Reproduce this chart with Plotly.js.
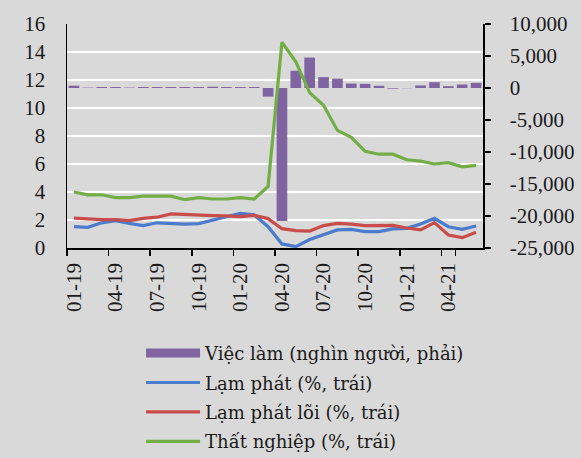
<!DOCTYPE html>
<html>
<head>
<meta charset="utf-8">
<script src="https://cdn.plot.ly/plotly-3.0.1.min.js"></script>
<style>html,body{margin:0;padding:0;background:#d9d9d9;}#chart{width:581px;height:458px;}</style>
</head>
<body>
<div id="chart"></div>
<script>
const months = ['01-19','02-19','03-19','04-19','05-19','06-19','07-19','08-19','09-19','10-19','11-19','12-19',
  '01-20','02-20','03-20','04-20','05-20','06-20','07-20','08-20','09-20','10-20','11-20','12-20',
  '01-21','02-21','03-21','04-21','05-21','06-21'];
const jobs = [360, 60, 150, 150, 60, 150, 150, 150, 150, 150, 200, 150, 150, 150, -1350, -20780, 2700, 4760, 1700, 1460, 700, 650, 350, -100, -30, 400, 900, 280, 550, 800];
const inflation = [1.52, 1.48, 1.8, 1.95, 1.76, 1.6, 1.8, 1.76, 1.7, 1.74, 2.0, 2.24, 2.48, 2.38, 1.52, 0.29, 0.1, 0.6, 0.93, 1.29, 1.33, 1.17, 1.17, 1.36, 1.4, 1.71, 2.12, 1.52, 1.33, 1.57];
const coreInflation = [2.14, 2.07, 2.02, 2.02, 1.95, 2.12, 2.2, 2.43, 2.38, 2.33, 2.31, 2.29, 2.24, 2.33, 2.1, 1.38, 1.24, 1.21, 1.6, 1.76, 1.71, 1.6, 1.62, 1.62, 1.43, 1.29, 1.81, 0.93, 0.74, 1.12];
const unemployment = [4.0, 3.8, 3.8, 3.6, 3.6, 3.7, 3.7, 3.7, 3.45, 3.6, 3.5, 3.5, 3.6, 3.5, 4.4, 14.7, 13.3, 11.1, 10.2, 8.4, 7.9, 6.9, 6.7, 6.7, 6.3, 6.2, 6.0, 6.1, 5.8, 5.9];
const names = ['Việc làm (nghìn người, phải)', 'Lạm phát (%, trái)', 'Lạm phát lõi (%, trái)', 'Thất nghiệp (%, trái)'];
const xTickLabels = ['01-19','04-19','07-19','10-19','01-20','04-20','07-20','10-20','01-21','04-21'];
const rightTickVals = [10000, 5000, 0, -5000, -10000, -15000, -20000, -25000];
const rightTickText = ['10,000', '5,000', '0', '-5,000', '-10,000', '-15,000', '-20,000', '-25,000'];

const purple = '#8064a2', blue = '#4a7bcc', red = '#c84d4a', green = '#72ae45';
const font = 'Liberation Serif, serif';
const legendFont = 'DejaVu Serif, serif';

const traces = [
  {type: 'bar', x: months, y: jobs, yaxis: 'y', xaxis: 'x', marker: {color: purple}, showlegend: false, name: names[0], hoverinfo: 'skip'},
  {type: 'scatter', mode: 'lines', x: [null], y: [null], yaxis: 'y', name: names[0], line: {color: purple, width: 9}, legendgroup: 'a', legendrank: 1},
  {type: 'scatter', mode: 'lines', x: months, y: inflation, yaxis: 'y2', name: names[1], line: {color: blue, width: 3.2}, legendgroup: 'b', legendrank: 2},
  {type: 'scatter', mode: 'lines', x: months, y: coreInflation, yaxis: 'y2', name: names[2], line: {color: red, width: 3.2}, legendgroup: 'c', legendrank: 3},
  {type: 'scatter', mode: 'lines', x: months, y: unemployment, yaxis: 'y2', name: names[3], line: {color: green, width: 3.2}, legendgroup: 'd', legendrank: 4}
];

const layout = {
  width: 581, height: 458,
  margin: {l: 67, r: 98, t: 24, b: 210, autoexpand: false},
  paper_bgcolor: '#d9d9d9', plot_bgcolor: '#d9d9d9',
  font: {family: font, size: 21, color: '#1a1a1a'},
  bargap: 0.23,
  showlegend: true,
  legend: {x: 0.178, xanchor: 'left', y: -0.388, yanchor: 'top', bgcolor: 'rgba(0,0,0,0)',
           font: {family: legendFont, size: 18, color: '#1a1a1a'}, traceorder: 'grouped', tracegroupgap: 3, itemwidth: 54},
  xaxis: {type: 'category', categoryorder: 'array', categoryarray: months, range: [-0.5, 29.5],
          tickmode: 'array', tickvals: xTickLabels, ticktext: xTickLabels, tickson: 'boundaries',
          ticks: 'outside', ticklen: 6, tickcolor: '#000', tickwidth: 1.5, tickangle: -90, ticklabelstandoff: 5,
          showline: true, linecolor: '#000', linewidth: 1.5, showgrid: false, zeroline: false,
          tickfont: {family: font, size: 21}},
  yaxis: {side: 'right', range: [-25000, 10000], tickmode: 'array', tickvals: rightTickVals, ticktext: rightTickText,
          ticks: 'outside', ticklen: 6, tickcolor: '#000', tickwidth: 1.5, ticklabelstandoff: 15,
          showline: true, linecolor: '#000', linewidth: 1.5, showgrid: false, zeroline: false,
          tickfont: {family: font, size: 21}},
  yaxis2: {side: 'left', overlaying: 'y', range: [0, 16], dtick: 2, tick0: 0,
           ticks: '', showline: true, linecolor: '#000', linewidth: 1.5,
           showgrid: true, gridcolor: '#ffffff', gridwidth: 2, zeroline: false, ticklabelstandoff: 16,
           tickfont: {family: font, size: 21}}
};

Plotly.newPlot('chart', traces, layout, {displayModeBar: false, staticPlot: true});
</script>
</body>
</html>
